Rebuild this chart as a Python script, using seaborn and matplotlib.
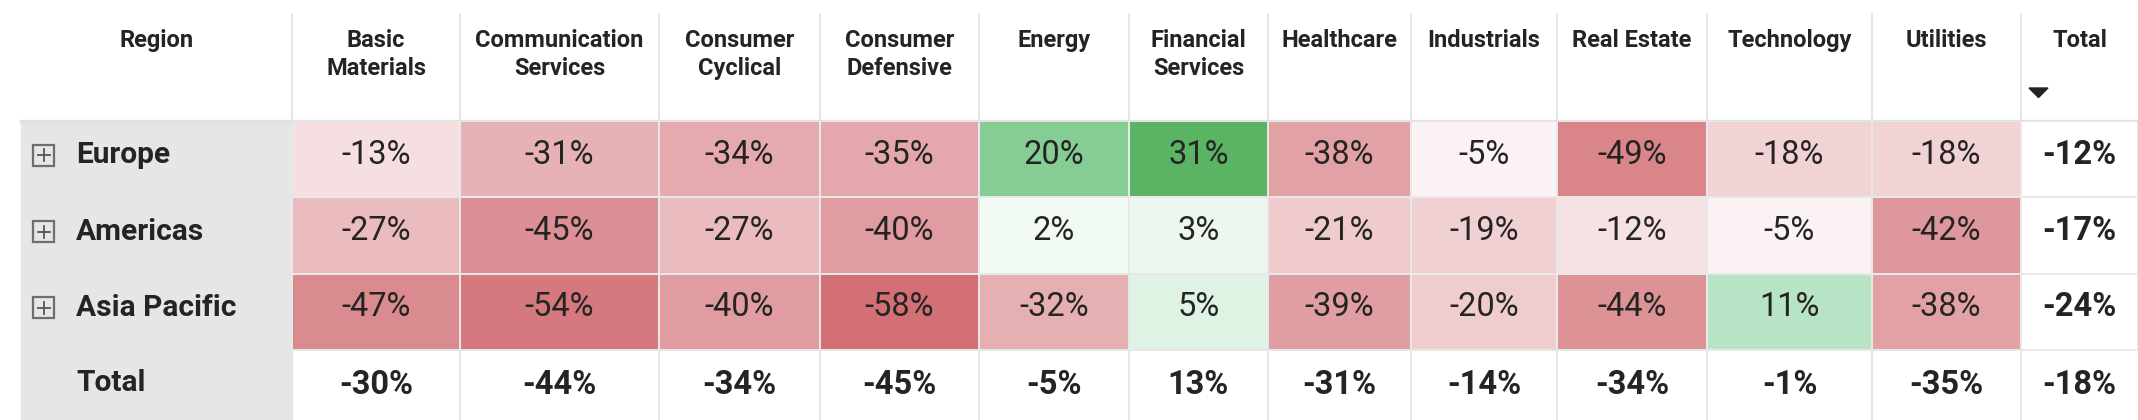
import numpy as np
import pandas as pd
import seaborn as sns
import matplotlib
matplotlib.use("Agg")
import matplotlib.pyplot as plt
from matplotlib.colors import LinearSegmentedColormap, TwoSlopeNorm, ListedColormap
from matplotlib.patches import Rectangle, Polygon

# ---------------- data ----------------
regions = ["Europe", "Americas", "Asia Pacific"]
sectors = ["Basic Materials", "Communication Services", "Consumer Cyclical",
           "Consumer Defensive", "Energy", "Financial Services", "Healthcare",
           "Industrials", "Real Estate", "Technology", "Utilities"]
header_labels = ["Basic\nMaterials", "Communication\nServices", "Consumer\nCyclical",
                 "Consumer\nDefensive", "Energy", "Financial\nServices", "Healthcare",
                 "Industrials", "Real Estate", "Technology", "Utilities"]
europe = [-13, -31, -34, -35, 20, 31, -38, -5, -49, -18, -18]
americas = [-27, -45, -27, -40, 2, 3, -21, -19, -12, -5, -42]
asia_pacific = [-47, -54, -40, -58, -32, 5, -39, -20, -44, 11, -38]
sector_totals = [-30, -44, -34, -45, -5, 13, -31, -14, -34, -1, -35]
region_totals = [-12, -17, -24]
grand_total = -18

# ---------------- style ----------------
plt.rcParams['font.family'] = ['Roboto', 'DejaVu Sans']
TXT = '#252423'
GRID = '#E6E6E6'
W, H = 2138, 420
col_edges = [292, 460, 659, 820, 979, 1129, 1268, 1411, 1557, 1707, 1872, 2021, 2138]
region_left = 21
header_bottom = 121
data_bottom = 350
row_h = (data_bottom - header_bottom) / 3.0
total_center_y = 385

values = pd.DataFrame([europe, americas, asia_pacific], index=regions, columns=sectors)
vmin = values.values.min()
vmax = values.values.max()
cmap = LinearSegmentedColormap.from_list(
    "pbi", [(0.0, '#D27076'), (0.5, '#FFFFFF'), (0.677, '#B9E4C6'),
            (0.82, '#86CC96'), (1.0, '#5AB464')])
norm = TwoSlopeNorm(vmin=vmin, vcenter=0, vmax=vmax)

fig = plt.figure(figsize=(W / 100, H / 100), dpi=100)
bg = fig.add_axes([0, 0, 1, 1])
bg.set_xlim(0, W)
bg.set_ylim(H, 0)
bg.axis('off')

# region column background
bg.add_patch(Rectangle((region_left, header_bottom), col_edges[0] - region_left,
                       H - header_bottom, color='#E6E6E6', zorder=0))
# vertical separators
for x in col_edges[:-1]:
    bg.plot([x, x], [13, H], color=GRID, lw=1.4, zorder=1, solid_capstyle='butt')
# header bottom line
bg.plot([region_left, W], [header_bottom, header_bottom], color='#E0E0E0', lw=2.4, zorder=2)
bg.plot([col_edges[0], W], [data_bottom, data_bottom], color=GRID, lw=1.4, zorder=2)

# headers
HFS = 17
bg.text((region_left + col_edges[0]) / 2, 29, "Region", ha='center', va='top',
        fontsize=HFS, fontweight='bold', color=TXT)
for i, lab in enumerate(header_labels):
    cx = (col_edges[i] + col_edges[i + 1]) / 2
    bg.text(cx, 29, lab, ha='center', va='top', fontsize=HFS, fontweight='bold',
            color=TXT, linespacing=1.3)
cx_tot = (col_edges[-2] + col_edges[-1]) / 2
bg.text(cx_tot, 29, "Total", ha='center', va='top', fontsize=HFS, fontweight='bold',
        color=TXT)
bg.add_patch(Polygon([(2029, 88), (2048, 88), (2038.5, 97.5)], closed=True,
                     color=TXT, zorder=3))

# region labels with expand icons
for r, name in enumerate(regions):
    cy = header_bottom + (r + 0.5) * row_h - 4
    bg.add_patch(Rectangle((33, cy - 10.5), 21, 21, fill=False, ec='#6E6E6E', lw=1.6,
                           zorder=3))
    bg.plot([37.5, 49.5], [cy, cy], color='#555555', lw=1.3, zorder=4)
    bg.plot([43.5, 43.5], [cy - 6, cy + 6], color='#555555', lw=1.3, zorder=4)
    bg.text(76, cy, name, ha='left', va='center', fontsize=21.5, fontweight='bold', color=TXT)
bg.text(76, total_center_y - 2, "Total", ha='left', va='center', fontsize=21.5,
        fontweight='bold', color=TXT)

def fmt(v):
    return f"{v}%"

DFS = 23.5
# heatmap columns
for i, sec in enumerate(sectors):
    x0, x1 = col_edges[i], col_edges[i + 1]
    ax = fig.add_axes([x0 / W, 1 - data_bottom / H, (x1 - x0) / W, row_h * 3 / H])
    col = values[[sec]]
    labels = np.array([[fmt(v)] for v in col[sec]])
    sns.heatmap(col, ax=ax, cmap=cmap, norm=norm, annot=labels, fmt='', cbar=False,
                linewidths=1.2, linecolor='#E8E8E8', xticklabels=False, yticklabels=False,
                annot_kws=dict(fontsize=DFS, color=TXT))
    for t in ax.texts:
        t.set_y(t.get_position()[1] - 0.06)
    ax.text(0.5, (total_center_y - header_bottom) / row_h, fmt(sector_totals[i]),
            ha='center', va='center', fontsize=DFS, fontweight='bold', color=TXT)
    ax.set_xlabel('')
    ax.set_ylabel('')

# total column
x0, x1 = col_edges[-2], col_edges[-1]
ax = fig.add_axes([x0 / W, 1 - data_bottom / H, (x1 - x0) / W, row_h * 3 / H])
tot = pd.DataFrame({"Total": region_totals}, index=regions)
tlabels = np.array([[fmt(v)] for v in region_totals])
sns.heatmap(tot, ax=ax, cmap=ListedColormap(['#FFFFFF']), annot=tlabels, fmt='',
            cbar=False, linewidths=1.2, linecolor='#E8E8E8', xticklabels=False,
            yticklabels=False, annot_kws=dict(fontsize=DFS, fontweight='bold', color=TXT))
for t in ax.texts:
    t.set_y(t.get_position()[1] - 0.06)
ax.text(0.5, (total_center_y - header_bottom) / row_h, fmt(grand_total),
        ha='center', va='center', fontsize=DFS, fontweight='bold', color=TXT)
ax.set_xlabel('')
ax.set_ylabel('')

fig.savefig("out.png", dpi=100)
